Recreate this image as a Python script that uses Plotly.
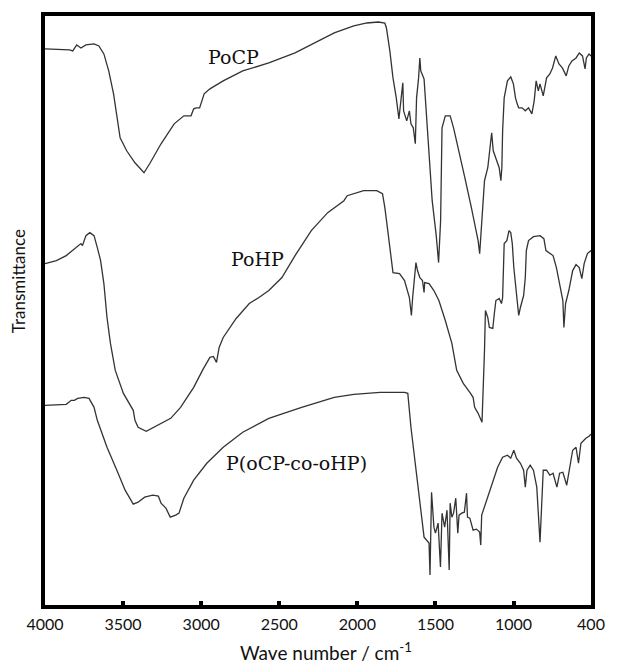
import numpy as np
import plotly.graph_objects as go

# ---------------- data ----------------
tick_wn = [4000, 3500, 3000, 2500, 2000, 1500, 1000, 400]
tick_text = ["4000", "3500", "3000", "2500", "2000", "1500", "1000", "400"]

pocp_wn = [4000, 3843, 3822, 3797, 3770, 3738, 3686, 3655, 3623, 3592, 3561, 3540, 3519, 3477, 3424,
           3366, 3330, 3257, 3173, 3111, 3065, 3048, 3031, 3010, 2996, 2981, 2944, 2859, 2734, 2567,
           2399, 2253, 2148, 2023, 1939, 1866, 1824, 1814, 1792, 1772, 1751, 1734, 1723, 1709, 1704,
           1684, 1667, 1657, 1642, 1629, 1621, 1608, 1600, 1594, 1573, 1563, 1541, 1521, 1495, 1480,
           1467, 1458, 1437, 1406, 1384, 1353, 1312, 1270, 1238, 1227, 1217, 1207, 1196, 1186, 1165,
           1148, 1140, 1130, 1113, 1092, 1081, 1075, 1070, 1060, 1039, 1018, 1001, 985, 972, 960,
           934, 909, 884, 858, 840, 825, 808, 795, 770, 744, 719, 698, 673, 648, 622,
           592, 572, 547, 516, 491, 466, 446, 436, 415, 400]
pocp_t = [557, 556, 555, 561, 558, 561, 562, 560, 552, 535, 512, 492, 468, 455, 443,
          433, 442, 462, 482, 490, 490, 497, 498, 498, 505, 512, 517, 525, 535, 543,
          553, 565, 573, 580, 583, 584, 583, 578, 555, 528, 508, 487, 502, 523, 495,
          485, 495, 482, 478, 462, 508, 528, 548, 535, 527, 505, 455, 405, 370, 343,
          385, 478, 490, 490, 478, 455, 428, 398, 375, 365, 352, 375, 405, 425, 438,
          465, 473, 455, 448, 438, 425, 438, 475, 508, 525, 529, 522, 508, 502, 498,
          498, 495, 498, 492, 505, 525, 515, 522, 510, 528, 532, 538, 550, 542, 538,
          530, 540, 545, 548, 553, 550, 537, 548, 552, 550]

pohp_wn = [4000, 3927, 3864, 3801, 3770, 3760, 3738, 3713, 3686, 3665,
           3644, 3623, 3603, 3581, 3550, 3498, 3435, 3424, 3404, 3352,
           3278, 3195, 3132, 3048, 2985, 2944, 2922, 2902, 2885, 2859,
           2776, 2692, 2630, 2567, 2483, 2399, 2295, 2190, 2086, 2065,
           1960, 1876, 1839, 1824, 1803, 1772, 1730, 1698, 1667, 1654,
           1646, 1625, 1615, 1600, 1583, 1573, 1569, 1541, 1510, 1478,
           1437, 1395, 1364, 1322, 1280, 1259, 1249, 1227, 1202, 1196,
           1186, 1180, 1165, 1155, 1133, 1123, 1113, 1092, 1077, 1070,
           1064, 1060, 1043, 1029, 1018, 1008, 998, 977, 960, 947,
           922, 909, 901, 884, 846, 795, 765, 749, 719, 694,
           668, 643, 618, 610, 597, 572, 542, 516, 491, 471,
           453, 428, 415, 400]
pohp_t = [342, 345, 350, 358, 362, 360, 370, 373, 370, 358,
          345, 322, 288, 262, 235, 212, 195, 185, 178, 174,
          180, 187, 198, 218, 237, 248, 249, 243, 258, 268,
          287, 302, 308, 315, 328, 350, 375, 393, 405, 410,
          415, 415, 412, 398, 372, 333, 332, 325, 308, 290,
          308, 343, 335, 328, 325, 313, 323, 322, 315, 305,
          285, 262, 235, 222, 213, 208, 198, 192, 183, 205,
          255, 295, 288, 278, 277, 292, 305, 307, 302, 308,
          342, 362, 365, 375, 373, 362, 338, 312, 290, 298,
          310, 328, 355, 365, 369, 370, 367, 355, 352, 350,
          338, 322, 305, 278, 302, 315, 335, 341, 338, 327,
          342, 352, 353, 355]

cop_wn = [4000, 3906, 3864, 3832, 3812, 3791, 3749, 3718, 3686, 3665,
          3603, 3540, 3487, 3435, 3404, 3362, 3310, 3274, 3257, 3226,
          3198, 3163, 3142, 3111, 3048, 2964, 2859, 2734, 2567, 2357,
          2148, 2023, 1855, 1698, 1677, 1657, 1625, 1594, 1573, 1541,
          1535, 1525, 1510, 1500, 1483, 1468, 1458, 1441, 1426, 1412,
          1406, 1395, 1384, 1370, 1357, 1349, 1332, 1315, 1301, 1295,
          1280, 1259, 1238, 1217, 1210, 1204, 1144, 1102, 1070, 1039,
          1018, 998, 977, 947, 922, 909, 896, 871, 846, 820,
          795, 770, 744, 719, 694, 664, 643, 618, 588, 567,
          542, 516, 497, 478, 440, 415, 400]
cop_t = [200, 201, 201, 205, 205, 207, 208, 207, 198, 185,
         158, 135, 115, 101, 103, 108, 110, 109, 102, 97,
         88, 90, 92, 107, 125, 142, 158, 173, 187, 198,
         208, 211, 213, 213, 212, 178, 135, 95, 68, 62,
         30, 113, 78, 72, 82, 38, 92, 78, 95, 35,
         102, 88, 92, 107, 72, 90, 92, 93, 112, 88,
         87, 75, 76, 73, 60, 90, 118, 138, 148, 150,
         147, 155, 147, 142, 135, 118, 135, 140, 135, 118,
         63, 135, 135, 130, 132, 118, 132, 133, 120, 138,
         155, 158, 142, 162, 167, 169, 171]

series_names = ["PoCP", "PoHP", "P(oCP-co-oHP)"]
label_wn = [2795, 2638, 2387]
label_t = [549, 347, 142]

for a, b in [(pocp_wn, pocp_t), (pohp_wn, pohp_t), (cop_wn, cop_t)]:
    assert len(a) == len(b)

# The reference axis is compressed below 1000 cm-1
K = 0.8265


def to_axis(w):
    w = np.asarray(w, dtype=float)
    return np.where(w >= 1000, w, 1000 - (1000 - w) * K)


fig = go.Figure()
for wn, t, name in [(pocp_wn, pocp_t, series_names[0]),
                    (pohp_wn, pohp_t, series_names[1]),
                    (cop_wn, cop_t, series_names[2])]:
    fig.add_trace(go.Scatter(x=to_axis(wn), y=t, mode="lines", name=name,
                             line=dict(color="#333333", width=1.3),
                             showlegend=False, hoverinfo="skip"))

for name, lw, lt in zip(series_names, label_wn, label_t):
    fig.add_annotation(x=float(to_axis(lw)), y=lt, xref="x", yref="y", text=name,
                       showarrow=False, xanchor="center", yanchor="middle",
                       font=dict(family="DejaVu Serif", size=19, color="#111111"))

fig.add_annotation(x=-0.0485, y=0.549, xref="paper", yref="paper", text="Transmittance",
                   textangle=-90, showarrow=False, xanchor="center", yanchor="middle",
                   font=dict(family="Lato", size=17, color="#111111"))
fig.add_annotation(x=0.515, y=-0.079, xref="paper", yref="paper",
                   text="Wave number / cm<sup>-1</sup>", showarrow=False,
                   xanchor="center", yanchor="middle",
                   font=dict(family="Lato", size=19, color="#111111"))

fig.update_layout(
    width=617, height=664,
    margin=dict(l=45, r=15, t=15, b=59),
    paper_bgcolor="white", plot_bgcolor="white",
    xaxis=dict(range=[4000, float(to_axis(400))], tickvals=list(to_axis(tick_wn)),
               ticktext=tick_text, showline=True, linecolor="black", linewidth=4,
               mirror=True, ticks="inside", ticklen=4, tickwidth=4, tickcolor="black",
               showgrid=False, zeroline=False, ticklabelstandoff=2,
               tickfont=dict(family="Lato", size=16, color="#111111")),
    yaxis=dict(range=[0, 590], showticklabels=False, ticks="", showline=True,
               linecolor="black", linewidth=4, mirror=True, showgrid=False,
               zeroline=False),
)

fig.write_html("out.html")
